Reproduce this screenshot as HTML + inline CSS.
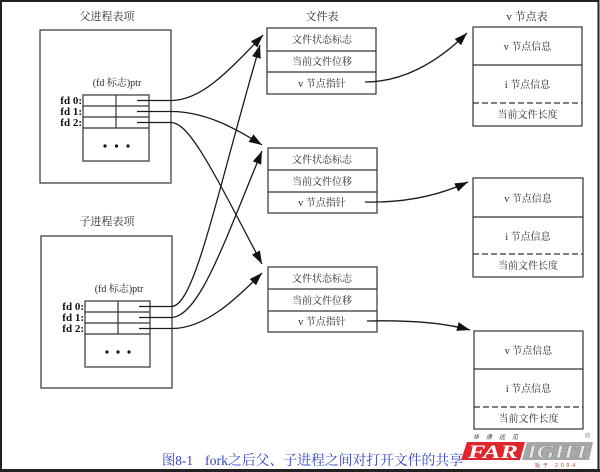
<!DOCTYPE html>
<html>
<head>
<meta charset="utf-8">
<style>
html,body{margin:0;padding:0;background:#fff;}
svg{display:block;}
.t{font-family:"Liberation Serif","Noto Serif CJK SC",serif;font-size:10px;fill:#2a2a2a;text-anchor:middle;}
.fd{font-family:"Liberation Serif",serif;font-size:11px;font-weight:bold;fill:#111;text-anchor:end;}
.b{fill:none;stroke:#333;stroke-width:1.2;}
.a{fill:none;stroke:#1a1a1a;stroke-width:1.3;}
</style>
</head>
<body>
<svg width="600" height="472" viewBox="0 0 600 472" xmlns="http://www.w3.org/2000/svg">
<defs>
<marker id="ah" markerUnits="userSpaceOnUse" markerWidth="16" markerHeight="12" refX="13" refY="4.5" orient="auto">
<path d="M0,0 L13,4.5 L0,9 Z" fill="#111"/>
</marker>
</defs>
<rect x="0" y="0" width="600" height="472" fill="#fff"/>
<rect x="1" y="1" width="597.5" height="469" fill="none" stroke="#222" stroke-width="2"/>
<line x1="0" y1="470.5" x2="600" y2="470.5" stroke="#222" stroke-width="3"/>

<!-- Titles -->
<text class="t" x="107" y="20" style="font-size:11px">父进程表项</text>
<text class="t" x="322" y="20" style="font-size:11px">文件表</text>
<text class="t" x="527" y="20" style="font-size:11px">v 节点表</text>
<text class="t" x="107" y="225" style="font-size:11px">子进程表项</text>

<!-- Parent process box -->
<rect class="b" x="40" y="30" width="131" height="153"/>
<text class="t" x="117" y="86">(fd 标志)ptr</text>
<rect class="b" x="83" y="95" width="66" height="66"/>
<line class="b" x1="83" y1="106" x2="149" y2="106"/>
<line class="b" x1="83" y1="117" x2="149" y2="117"/>
<line class="b" x1="83" y1="128" x2="149" y2="128"/>
<line class="b" x1="116" y1="95" x2="116" y2="128"/>
<text class="fd" x="82" y="104">fd 0:</text>
<text class="fd" x="82" y="115">fd 1:</text>
<text class="fd" x="82" y="126">fd 2:</text>
<circle cx="105" cy="146" r="1.6" fill="#111"/>
<circle cx="116.5" cy="146" r="1.6" fill="#111"/>
<circle cx="128" cy="146" r="1.6" fill="#111"/>

<!-- Child process box -->
<rect class="b" x="41" y="236" width="131" height="152"/>
<text class="t" x="119" y="292">(fd 标志)ptr</text>
<rect class="b" x="85" y="301" width="65" height="66"/>
<line class="b" x1="85" y1="312" x2="150" y2="312"/>
<line class="b" x1="85" y1="323" x2="150" y2="323"/>
<line class="b" x1="85" y1="334" x2="150" y2="334"/>
<line class="b" x1="118" y1="301" x2="118" y2="334"/>
<text class="fd" x="84" y="310">fd 0:</text>
<text class="fd" x="84" y="321">fd 1:</text>
<text class="fd" x="84" y="332">fd 2:</text>
<circle cx="107" cy="352" r="1.6" fill="#111"/>
<circle cx="118" cy="352" r="1.6" fill="#111"/>
<circle cx="129" cy="352" r="1.6" fill="#111"/>

<!-- File table boxes -->
<rect class="b" x="267" y="28" width="109" height="66"/>
<line class="b" x1="267" y1="51" x2="376" y2="51"/>
<line class="b" x1="267" y1="72" x2="376" y2="72"/>
<text class="t" x="322" y="43">文件状态标志</text>
<text class="t" x="322" y="65">当前文件位移</text>
<text class="t" x="322" y="87">v 节点指针</text>

<rect class="b" x="268" y="148" width="109" height="65"/>
<line class="b" x1="268" y1="170" x2="377" y2="170"/>
<line class="b" x1="268" y1="192" x2="377" y2="192"/>
<text class="t" x="322" y="163">文件状态标志</text>
<text class="t" x="322" y="185">当前文件位移</text>
<text class="t" x="322" y="206">v 节点指针</text>

<rect class="b" x="268" y="267" width="109" height="65"/>
<line class="b" x1="268" y1="289" x2="377" y2="289"/>
<line class="b" x1="268" y1="311" x2="377" y2="311"/>
<text class="t" x="322" y="282">文件状态标志</text>
<text class="t" x="322" y="304">当前文件位移</text>
<text class="t" x="322" y="325">v 节点指针</text>

<!-- v-node boxes -->
<rect class="b" x="473" y="27" width="109" height="99"/>
<line class="b" x1="473" y1="65" x2="582" y2="65"/>
<line class="b" x1="473" y1="103" x2="582" y2="103" stroke-dasharray="6,3"/>
<text class="t" x="527.5" y="50">v 节点信息</text>
<text class="t" x="527.5" y="88">i 节点信息</text>
<text class="t" x="527.5" y="118">当前文件长度</text>

<rect class="b" x="473" y="178" width="110" height="99"/>
<line class="b" x1="473" y1="217" x2="583" y2="217"/>
<line class="b" x1="473" y1="254" x2="583" y2="254" stroke-dasharray="6,3"/>
<text class="t" x="528" y="202">v 节点信息</text>
<text class="t" x="528" y="240">i 节点信息</text>
<text class="t" x="528" y="269">当前文件长度</text>

<rect class="b" x="474" y="331" width="109" height="98"/>
<line class="b" x1="474" y1="369" x2="583" y2="369"/>
<line class="b" x1="474" y1="407" x2="583" y2="407" stroke-dasharray="6,3"/>
<text class="t" x="528.5" y="354">v 节点信息</text>
<text class="t" x="528.5" y="392">i 节点信息</text>
<text class="t" x="528.5" y="422">当前文件长度</text>

<!-- Parent fd arrows -->
<path class="a" marker-end="url(#ah)" d="M137,100.5 H171 C200,100.5 225,75 263,35"/>
<path class="a" marker-end="url(#ah)" d="M137,111.5 H171 C205,111.5 235,128 262,145"/>
<path class="a" marker-end="url(#ah)" d="M137,122.5 H171 C190,122.5 215,175 262,264"/>

<!-- Child fd arrows -->
<path class="a" marker-end="url(#ah)" d="M139,306.5 H172 C195,304 215,200 260,45"/>
<path class="a" marker-end="url(#ah)" d="M139,317.5 H172 C200,315 225,240 262,151"/>
<path class="a" marker-end="url(#ah)" d="M139,328.5 H172 C205,328.5 235,300 262,273"/>

<!-- v-node pointer arrows -->
<path class="a" marker-end="url(#ah)" d="M365,82 C400,82 435,65 467,33"/>
<path class="a" marker-end="url(#ah)" d="M365,202 C405,203 440,195 468,182"/>
<path class="a" marker-end="url(#ah)" d="M367,321 C410,320 445,323 470,330"/>

<!-- Caption -->
<text x="162" y="465" style="font-family:'Liberation Serif','Noto Serif CJK SC',serif;font-size:14px;fill:#3342c8" textLength="31" lengthAdjust="spacingAndGlyphs">图8-1</text>
<text x="205" y="465" style="font-family:'Liberation Serif','Noto Serif CJK SC',serif;font-size:14px;fill:#3342c8" textLength="258" lengthAdjust="spacingAndGlyphs">fork之后父、子进程之间对打开文件的共享</text>

<!-- Logo -->
<text x="473" y="439" style="font-family:'Noto Sans CJK SC',sans-serif;font-size:6px;font-style:italic;fill:#333" textLength="45" lengthAdjust="spacing">华 清 远 见</text>
<text x="585" y="438" style="font-family:'Liberation Sans',sans-serif;font-size:7px;fill:#777">®</text>
<polygon points="467,442 525,442 520,460 461,460" fill="#e0262b"/>
<polygon points="527,442 593,442 589,460 522,460" fill="#a8a8a8"/>
<text x="468" y="458" style="font-family:'Liberation Serif',serif;font-size:19px;font-weight:bold;font-style:italic;fill:#fff" textLength="50" lengthAdjust="spacingAndGlyphs">FAR</text>
<text x="527" y="458" style="font-family:'Liberation Serif',serif;font-size:19px;font-weight:bold;font-style:italic;fill:#e8e8e8;stroke:#888;stroke-width:0.5" textLength="62" lengthAdjust="spacingAndGlyphs">IGHT</text>
<text x="535" y="467" style="font-family:'Liberation Sans','Noto Sans CJK SC',sans-serif;font-size:5px;fill:#c0282c" textLength="40" lengthAdjust="spacing">始于 2004</text>
</svg>
</body>
</html>
